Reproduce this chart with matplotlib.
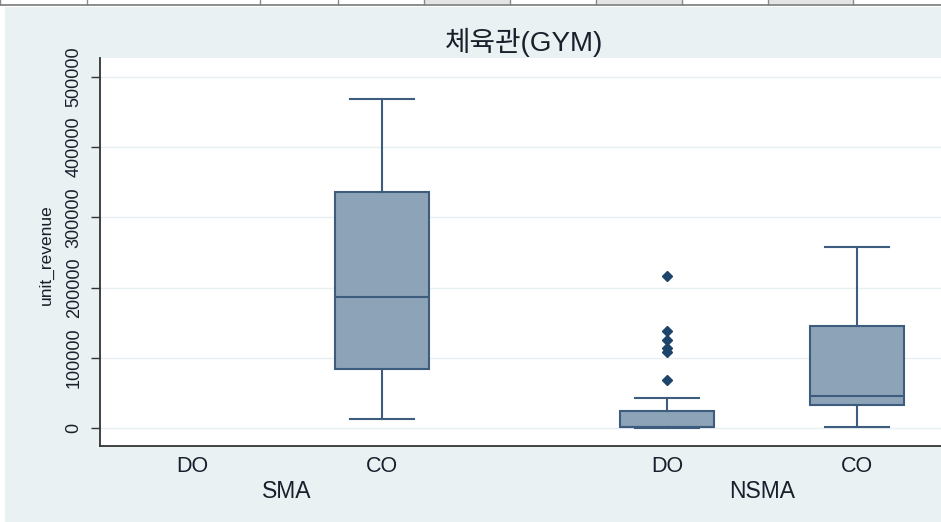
import matplotlib
matplotlib.use("Agg")
import matplotlib.pyplot as plt
from matplotlib.patches import Rectangle
from matplotlib.lines import Line2D

plt.rcParams['font.family'] = ['Liberation Sans', 'Noto Sans CJK KR']

# 그룹 / 유형 (DO, CO) 별 unit_revenue 상자그림 요약값
groups = ['SMA', 'NSMA']
labels = ['DO', 'CO', 'DO', 'CO']
positions = [1, 2, 3.5, 4.5]
whislo = [None, 13200, 0, 1900]
q1 = [None, 84500, 1000, 33200]
med = [None, 187000, 1000, 45100]
q3 = [None, 336000, 24700, 145300]
whishi = [None, 468700, 43200, 257400]
fliers = [[], [], [216500, 138600, 125400, 114400, 108700, 68400], []]
yticks = [0, 100000, 200000, 300000, 400000, 500000]

W, H = 941, 522
BG = '#E9F1F3'
FILL = '#8DA3B7'
EDGE = '#3D5C7E'
DOT = '#1D446B'
TXT = '#1a1f2b'

fig = plt.figure(figsize=(W / 100, H / 100), dpi=100)
fig.patch.set_facecolor('white')


def fx(x):
    return x / W


def fy(y):
    return 1 - y / H


# 배경 (그래프 영역)
fig.add_artist(Rectangle((fx(5), 0), fx(W - 5), fy(7), transform=fig.transFigure,
                         facecolor=BG, edgecolor='none', zorder=0))

# 상단 시트 셀 줄
cells = [0, 87, 260, 338, 424, 510, 596, 682, 768, 853, 941]
shaded = [424, 596, 768]
for a, b in zip(cells[:-1], cells[1:]):
    fc = '#E4E4E4' if a in shaded else 'white'
    fig.add_artist(Rectangle((fx(a), fy(4)), fx(b - a), fy(0) - fy(4), transform=fig.transFigure,
                             facecolor=fc, edgecolor='none', zorder=1))
    fig.add_artist(Line2D([fx(a), fx(a)], [fy(0), fy(4)], transform=fig.transFigure,
                          color='#8a8a8a', lw=1, zorder=2))
fig.add_artist(Line2D([0, 1], [fy(4.5), fy(4.5)], transform=fig.transFigure,
                      color='#7a7a7a', lw=1.2, zorder=2))

ax = fig.add_axes([fx(100), fy(446), fx(W - 100), fy(58) - fy(446)])
ax.set_facecolor('white')

stats = []
pos = []
for i in range(len(labels)):
    if q1[i] is None:
        continue
    stats.append(dict(whislo=whislo[i], q1=q1[i], med=med[i], q3=q3[i],
                      whishi=whishi[i], fliers=fliers[i]))
    pos.append(positions[i])

ax.bxp(stats, positions=pos, widths=0.495, capwidths=0.337, patch_artist=True,
       manage_ticks=False,
       boxprops=dict(facecolor=FILL, edgecolor=EDGE, linewidth=1.5),
       whiskerprops=dict(color=EDGE, linewidth=1.5),
       capprops=dict(color=EDGE, linewidth=1.5),
       medianprops=dict(color=EDGE, linewidth=1.5),
       flierprops=dict(marker='D', markerfacecolor=DOT, markeredgecolor=DOT, markersize=5.5))

ax.set_xlim(1 - 92 / 190, 1 + 749 / 190)
ax.set_ylim(-25600, 527000)

ax.set_yticks(yticks)
ax.set_yticklabels([str(v) for v in yticks], rotation=90, va='center', fontsize=13, color=TXT)
ax.tick_params(axis='y', length=6.5, width=1, pad=6, color='#333333')
ax.yaxis.grid(True, color='#E8EFF1', lw=1)
ax.set_axisbelow(True)

ax.set_xticks(positions)
ax.set_xticklabels(labels, fontsize=15.5, color=TXT)
ax.tick_params(axis='x', length=0, pad=7)

for sp in ['top', 'right']:
    ax.spines[sp].set_visible(False)
for sp in ['left', 'bottom']:
    ax.spines[sp].set_color('#333333')
    ax.spines[sp].set_linewidth(1.3)

# 그룹 이름
for g, (a, b) in zip(groups, [(0, 1), (2, 3)]):
    mid = (positions[a] + positions[b]) / 2
    ax.annotate(g, xy=(mid, 0), xycoords=('data', 'axes fraction'),
                xytext=(0, -46 * 0.72), textcoords='offset points',
                ha='center', va='center', fontsize=16.5, color=TXT)

fig.text(fx(46), fy(255), 'unit_revenue', rotation=90, ha='center', va='center',
         fontsize=12.5, color=TXT)
fig.text(fx(524), fy(42), '체육관(GYM)', ha='center', va='center', fontsize=20, color=TXT)

fig.savefig('out.png', dpi=100)
